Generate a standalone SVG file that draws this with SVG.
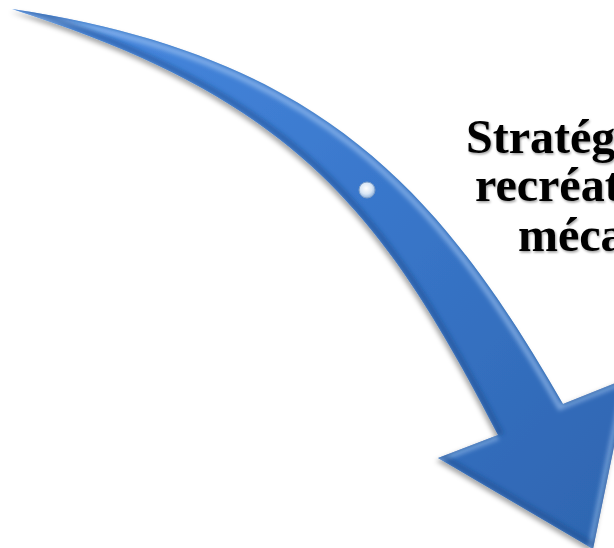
<svg xmlns="http://www.w3.org/2000/svg" width="614" height="548" viewBox="0 0 614 548">
<defs>
<style>
.lbl{font-family:"Liberation Serif","Times New Roman",serif;font-weight:bold;font-size:48px;fill:#000}
</style>
<linearGradient id="fillG" gradientUnits="userSpaceOnUse" x1="0" y1="0" x2="614" y2="548">
<stop offset="0" stop-color="#4a8be2"/>
<stop offset="0.5" stop-color="#3977cb"/>
<stop offset="1" stop-color="#2e65b0"/>
</linearGradient>
<radialGradient id="dotG" cx="0.45" cy="0.4" r="0.6">
<stop offset="0" stop-color="#ffffff"/>
<stop offset="0.6" stop-color="#d8e6f5"/>
<stop offset="1" stop-color="#8fb2dc"/>
</radialGradient>
<path id="shape" d="M12,9 C320,55 440,190 563,404 L628,378 L593,549 L438,458 L498,435 C382,212 297,100 12,9 Z"/>
<clipPath id="clip"><use href="#shape"/></clipPath>
<filter id="shadow" x="-10%" y="-10%" width="120%" height="120%">
<feDropShadow dx="-2" dy="3" stdDeviation="2.5" flood-color="#000" flood-opacity="0.35"/>
</filter>
<filter id="blur2" x="-5%" y="-5%" width="110%" height="110%"><feGaussianBlur stdDeviation="2"/></filter>
<filter id="txtShadow" x="-10%" y="-20%" width="120%" height="140%">
<feDropShadow dx="1" dy="1.5" stdDeviation="1.2" flood-color="#000" flood-opacity="0.4"/>
</filter>
</defs>
<rect width="614" height="548" fill="#fff"/>
<g id="arrow">
<use href="#shape" fill="url(#fillG)" filter="url(#shadow)"/>
<g clip-path="url(#clip)">
<use href="#shape" fill="none" stroke="#a9ccf5" stroke-opacity="0.55" stroke-width="6" transform="translate(-3,3)" filter="url(#blur2)"/>
<use href="#shape" fill="none" stroke="#1d4684" stroke-opacity="0.45" stroke-width="6" transform="translate(2,-3)" filter="url(#blur2)"/>
</g>
<circle cx="367" cy="190" r="8" fill="url(#dotG)" stroke="#7f9fc8" stroke-width="1"/>
</g>
<g id="label" filter="url(#txtShadow)">
<text class="lbl" x="466" y="153">Stratég</text>
<text class="lbl" x="475" y="201">recréat</text>
<text class="lbl" x="518" y="251">méca</text>
</g>
</svg>
